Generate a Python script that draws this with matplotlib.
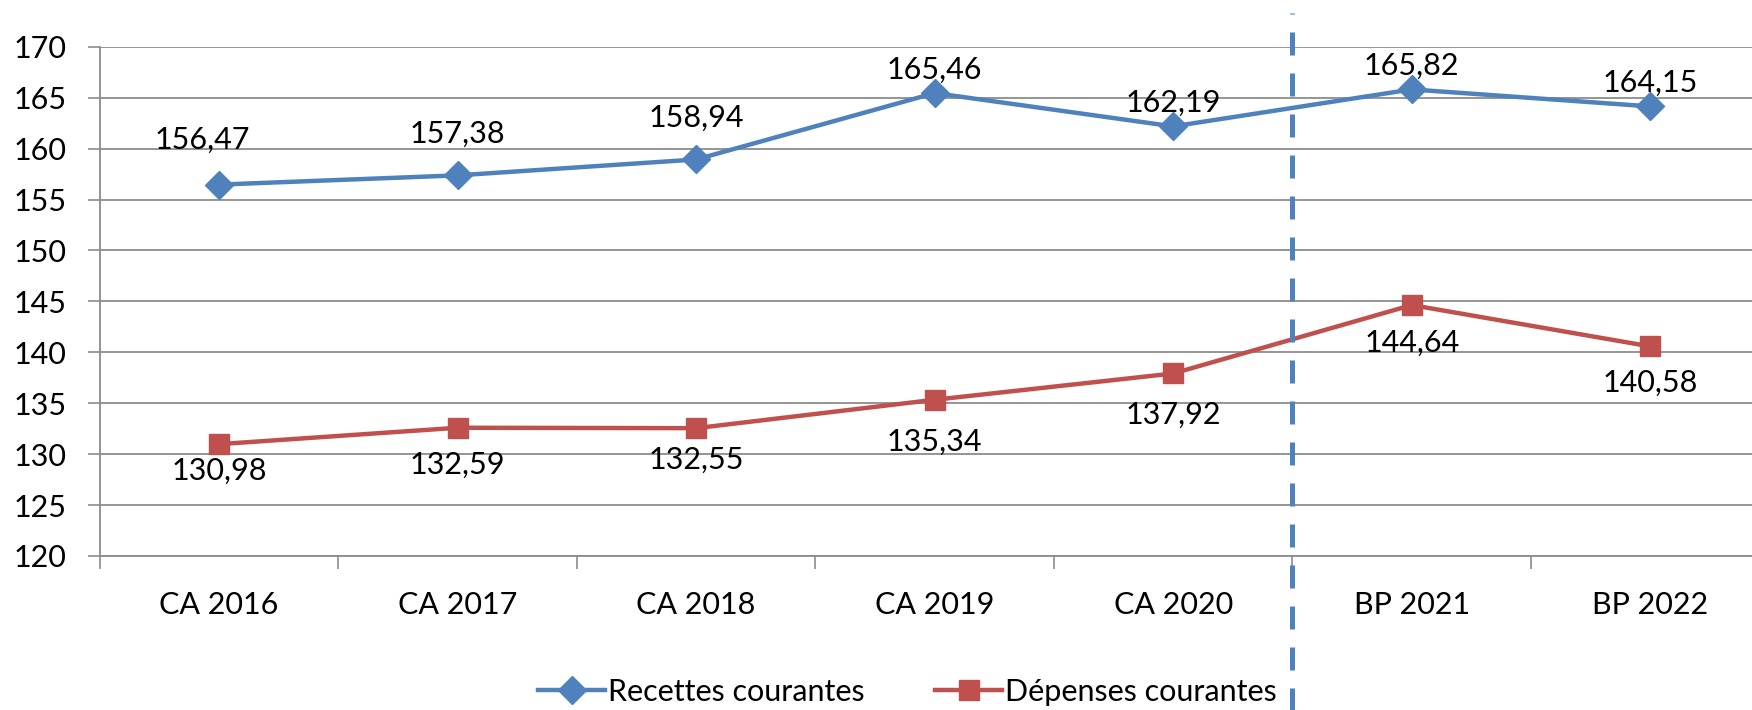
import numpy as np
import matplotlib
matplotlib.use("Agg")
import matplotlib.pyplot as plt
from matplotlib.lines import Line2D

plt.rcParams['font.family'] = ['Lato', 'DejaVu Sans']

# donnees
categories = ["CA 2016", "CA 2017", "CA 2018", "CA 2019", "CA 2020", "BP 2021", "BP 2022"]
recettes = [156.47, 157.38, 158.94, 165.46, 162.19, 165.82, 164.15]
depenses = [130.98, 132.59, 132.55, 135.34, 137.92, 144.64, 140.58]

# decalage des etiquettes (points)
dx_rec = [-12, 0, 0, 0, 0, 0, 0]
dy_rec = [32, 30, 30, 17, 17, 17, 17]
dy_dep = [-19, -27, -23, -30, -30, -27, -26]

blue = "#4F81BD"
red = "#C0504D"
grid = "#8C8C8C"
fs = 22

fig = plt.figure(figsize=(17.52, 7.10), dpi=100)
ax = fig.add_axes([0.057, 0.217, 0.953, 0.717])

x = np.arange(len(categories))
ax.plot(x, recettes, color=blue, lw=3.2, marker="D", ms=14, label="Recettes courantes", zorder=3)
ax.plot(x, depenses, color=red, lw=3.2, marker="s", ms=14, label="Dépenses courantes", zorder=3)

def fmt(v):
    return ("%.2f" % v).replace(".", ",")

for i in range(len(x)):
    ax.annotate(fmt(recettes[i]), (x[i], recettes[i]), xytext=(dx_rec[i], dy_rec[i]),
                textcoords="offset points", ha="center", va="center", fontsize=fs)
    ax.annotate(fmt(depenses[i]), (x[i], depenses[i]), xytext=(0, dy_dep[i]),
                textcoords="offset points", ha="center", va="center", fontsize=fs)

ax.set_xlim(-0.5, len(categories) - 0.5)
ax.set_ylim(120, 170)
ax.set_yticks(np.arange(120, 171, 5))
ax.tick_params(axis="y", labelsize=fs, length=9, width=1.2, color=grid, pad=15)
ax.set_xticks(x)
ax.set_xticklabels(categories)
ax.set_xticks(np.arange(-0.5, len(categories), 1), minor=True)
ax.tick_params(axis="x", which="major", length=0, labelsize=fs, pad=25)
ax.tick_params(axis="x", which="minor", length=9, width=1.2, color=grid)
ax.grid(axis="y", color=grid, lw=1.3)
ax.set_axisbelow(True)
for s in ["top", "right"]:
    ax.spines[s].set_visible(False)
for s in ["left", "bottom"]:
    ax.spines[s].set_color(grid)
    ax.spines[s].set_linewidth(1.3)

# ligne verticale en pointilles entre CA 2020 et BP 2021
trans = ax.get_xaxis_transform()
ax.plot([4.5, 4.5], [-0.31, 1.067], transform=trans, color=blue, lw=3.6,
        dashes=(4.6, 3.6), clip_on=False, zorder=4)

handles = [Line2D([], [], color=blue, lw=3.2, marker="D", ms=14),
           Line2D([], [], color=red, lw=3.2, marker="s", ms=14)]
fig.legend(handles, ["Recettes courantes", "Dépenses courantes"], loc="center",
           bbox_to_anchor=(0.518, 0.026), ncol=2, frameon=False, fontsize=fs,
           handlelength=2.2, handletextpad=0.1, columnspacing=2.3)

fig.savefig("out.png", dpi=100)
